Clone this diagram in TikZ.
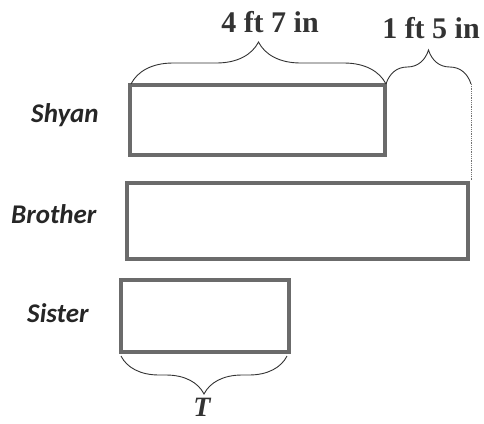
\documentclass[tikz,border=0pt]{standalone}
\usepackage{fontspec}
\setmainfont{Liberation Serif}
\newfontfamily\labfont{Carlito}
\usetikzlibrary{decorations.pathreplacing}
\begin{document}
\begin{tikzpicture}[x=1pt,y=-1pt,
  bar/.style={draw=black!58, line width=3.2pt, rectangle, inner sep=0pt, outer sep=0pt, anchor=north west},
  who/.style={font=\labfont\itshape\bfseries\fontsize{27}{30}\selectfont, text=black!85, inner sep=0pt, anchor=base west},
  meas/.style={font=\bfseries\fontsize{30}{34}\selectfont, text=black!80, inner sep=0pt, anchor=base},
  brc/.style={decorate, decoration={brace, amplitude=#1}, draw=black!80, line width=0.9pt}]
\useasboundingbox (0,0) rectangle (484,423);
% bars
\node[bar, minimum width=255pt, minimum height=70pt] (shyan) at (130,85) {};
\node[bar, minimum width=341pt, minimum height=76pt] (brother) at (127,183) {};
\node[bar, minimum width=168pt, minimum height=72pt] (sister) at (121,280) {};
% names
\node[who] (lshyan) at (31,122) {Shyan};
\node[who] (lbrother) at (11,223) {Brother};
\node[who] (lsister) at (27,322) {Sister};
% braces
\coordinate (b1a) at (131,84);
\coordinate (b1b) at (386,84);
\coordinate (b2b) at (471,84);
\coordinate (dend) at (471,180);
\coordinate (b3a) at (287,356);
\coordinate (b3b) at (121,356);
\draw[brc=42] (b1a) -- (b1b);
\draw[brc=34] (b1b) -- (b2b);
\draw[brc=38] (b3a) -- (b3b);
\draw[densely dotted, black!55, line width=0.8pt] (b2b) -- (dend);
% measures
\node[meas] (m1) at (270,32) {4 ft 7 in};
\node[meas] (m2) at (431,38) {1 ft 5 in};
\node[meas, font=\bfseries\itshape\fontsize{28}{32}\selectfont] (t) at (202,416) {T};
\end{tikzpicture}
\end{document}
